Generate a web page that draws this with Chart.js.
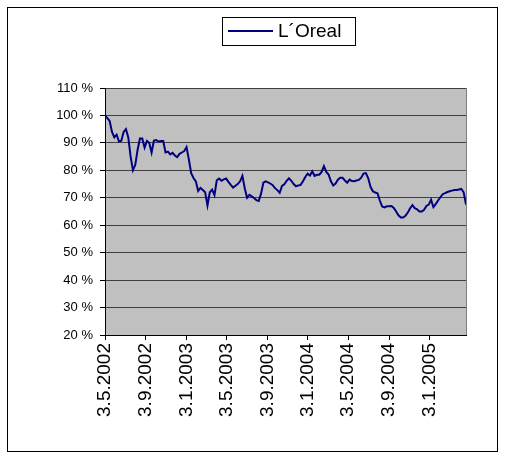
<!DOCTYPE html>
<html>
<head>
    <title>L´Oreal</title>
    <script src="https://cdn.jsdelivr.net/npm/chart.js"></script>
    <style>
        body { margin: 0; background: #fff; }
        #frame { position: absolute; left: 7px; top: 7px; width: 489px; height: 443px; border: 1px solid #000; }
        #chart { position: absolute; left: 0; top: 0; }
    </style>
</head>
<body>
    <div id="frame"></div>
    <canvas id="chart" width="505" height="458"></canvas>

    <script>
        // weekly closing values, index to start = 100 %
        var startDate = '2002-05-03';
        var seriesLabel = 'L´Oreal';
        var weeklyValues = [
            100, 99, 98, 94, 92, 93, 90.5, 90.8, 94, 95,
            92, 85, 80, 82, 87.5, 91.6, 91.6, 88.3, 90.7, 90,
            86.5, 90.8, 91, 90.5, 90.7, 90.7, 86.5, 86.8, 85.8, 86.4,
            85.4, 84.8, 86, 86.5, 87, 88.5, 84, 79, 77.2, 76,
            72.5, 73.6, 72.8, 72, 67.2, 72, 73, 71, 76.4, 77,
            76.2, 76.7, 77, 75.8, 74.7, 73.7, 74.4, 75, 76, 78,
            73.5, 70, 71.1, 70.5, 69.9, 69.1, 68.8, 71.5, 75.5, 76,
            75.6, 75.2, 74.6, 73.5, 72.8, 71.8, 74.3, 74.9, 76.2, 77.1,
            76.2, 75, 74.2, 74.5, 74.7, 76, 77.6, 78.8, 78.1, 79.6,
            78, 78.4, 78.4, 79.4, 81.5, 79.4, 78.5, 76, 74.5, 75.2,
            76.6, 77.3, 77.3, 76.3, 75.5, 76.6, 76.1, 76, 76.3, 76.5,
            77.3, 78.8, 79, 77.2, 74, 72.4, 71.9, 71.6, 69, 66.8,
            66.5, 66.9, 66.9, 67, 66.3, 65, 63.6, 62.8, 62.8, 63.4,
            64.6, 66.2, 67.3, 66.2, 65.8, 65, 65, 65.6, 67, 67.5,
            69.3, 66.6, 67.7, 69, 70.2, 71.3, 71.7, 72.1, 72.4, 72.6,
            72.8, 72.8, 73, 73.2, 72, 67.5
        ];
        var tickDates = ['2002-05-03', '2002-09-03', '2003-01-03', '2003-05-03', '2003-09-03',
                         '2004-01-03', '2004-05-03', '2004-09-03', '2005-01-03'];
        var tickLabels = ['3.5.2002', '3.9.2002', '3.1.2003', '3.5.2003', '3.9.2003',
                          '3.1.2004', '3.5.2004', '3.9.2004', '3.1.2005'];
        var yMin = 20, yMax = 110, yStep = 10;

        function dayOffset(iso) {
            return Math.round((Date.parse(iso) - Date.parse(startDate)) / 86400000);
        }
        var tickDays = tickDates.map(dayOffset);
        var points = weeklyValues.map(function(v, i) { return { x: i * 7, y: v }; });

        var fontFamily = '"Liberation Sans", Arial, sans-serif';

        // grey plot area with a frame, and an Excel-like boxed legend
        var excelLook = {
            id: 'excelLook',
            beforeDraw: function(chart) {
                var a = chart.chartArea, ctx = chart.ctx;
                ctx.save();
                ctx.fillStyle = '#c0c0c0';
                ctx.fillRect(a.left, a.top, a.right - a.left, a.bottom - a.top);
                ctx.strokeStyle = '#808080';
                ctx.lineWidth = 1;
                ctx.strokeRect(a.left + 0.5, a.top + 0.5, a.right - a.left, a.bottom - a.top);
                ctx.restore();
            },
            afterDraw: function(chart) {
                var ctx = chart.ctx, ds = chart.data.datasets[0];
                ctx.save();
                ctx.fillStyle = '#fff';
                ctx.fillRect(222, 17, 133, 28);
                ctx.strokeStyle = '#000';
                ctx.lineWidth = 1;
                ctx.strokeRect(222.5, 17.5, 133, 28);
                ctx.strokeStyle = ds.borderColor;
                ctx.lineWidth = 2;
                ctx.beginPath();
                ctx.moveTo(228, 31);
                ctx.lineTo(273, 31);
                ctx.stroke();
                ctx.fillStyle = '#000';
                ctx.font = '19px ' + fontFamily;
                ctx.textBaseline = 'middle';
                ctx.fillText(ds.label, 278, 32);
                ctx.restore();
            }
        };

        var ctx = document.getElementById('chart').getContext('2d');
        new Chart(ctx, {
            type: 'line',
            data: {
                datasets: [{
                    label: seriesLabel,
                    data: points,
                    borderColor: '#000080',
                    borderWidth: 2,
                    pointRadius: 0,
                    tension: 0,
                    fill: false
                }]
            },
            options: {
                responsive: false,
                animation: false,
                layout: { padding: { left: 0, right: 39, top: 88, bottom: 0 } },
                plugins: {
                    legend: { display: false },
                    tooltip: { enabled: false }
                },
                scales: {
                    x: {
                        type: 'linear',
                        min: 0,
                        max: (weeklyValues.length - 1) * 7,
                        afterBuildTicks: function(scale) {
                            scale.ticks = tickDays.map(function(d) { return { value: d }; });
                        },
                        afterFit: function(scale) { scale.height = 123; },
                        ticks: {
                            autoSkip: false,
                            minRotation: 90,
                            maxRotation: 90,
                            padding: 3,
                            color: '#000',
                            font: { family: fontFamily, size: 19 },
                            callback: function(value) {
                                var i = tickDays.indexOf(value);
                                return i >= 0 ? tickLabels[i] : '';
                            }
                        },
                        grid: { drawOnChartArea: false, drawTicks: true, tickLength: 5, color: '#000' },
                        border: { color: '#000', width: 1 }
                    },
                    y: {
                        min: yMin,
                        max: yMax,
                        afterFit: function(scale) { scale.width = 105; },
                        ticks: {
                            stepSize: yStep,
                            padding: 7,
                            color: '#000',
                            font: { family: fontFamily, size: 13 },
                            callback: function(value) { return value + ' %'; }
                        },
                        grid: { color: '#404040', tickLength: 5, tickColor: '#000' },
                        border: { color: '#000', width: 1 }
                    }
                }
            },
            plugins: [excelLook]
        });
    </script>
</body>
</html>
